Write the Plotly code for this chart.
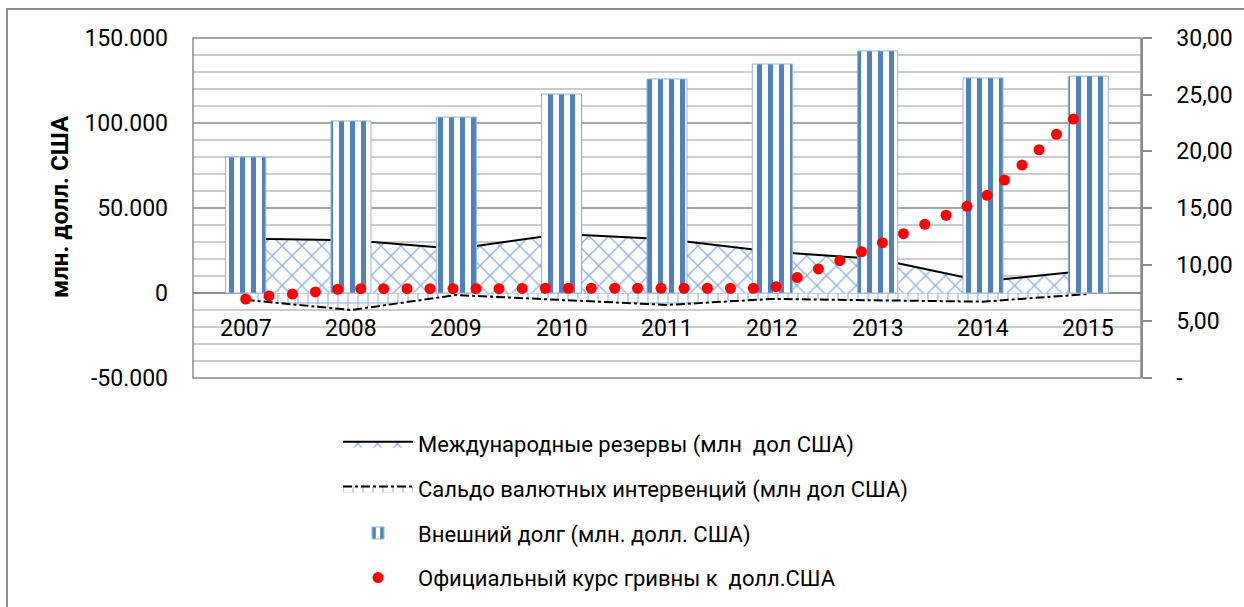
import plotly.graph_objects as go

years = ["2007", "2008", "2009", "2010", "2011", "2012", "2013", "2014", "2015"]
reserves = [32000, 31100, 26000, 34700, 31600, 24200, 20000, 6900, 13200]
saldo = [-4000, -10000, -1200, -4100, -7000, -3500, -4100, -5100, -600]
ext_debt = [80000, 101200, 103500, 117000, 125900, 134700, 142400, 126500, 127600]

# official exchange rate: position along the year axis (0 = 2007) and value
rate_pos = [0.0, 0.221, 0.444, 0.662, 0.874, 1.092, 1.310, 1.532, 1.750, 1.969,
            2.187, 2.405, 2.625, 2.845, 3.063, 3.281, 3.503, 3.721, 3.943, 4.162,
            4.383, 4.602, 4.820, 5.035, 5.236, 5.437, 5.640, 5.846, 6.045, 6.245,
            6.447, 6.649, 6.848, 7.038, 7.203, 7.370, 7.532, 7.697, 7.858]
rate = [6.97, 7.24, 7.41, 7.59, 7.83, 7.88, 7.88, 7.88, 7.88, 7.88,
        7.88, 7.88, 7.90, 7.92, 7.92, 7.92, 7.92, 7.92, 7.92, 7.92,
        7.92, 7.92, 7.92, 8.06, 8.87, 9.62, 10.35, 11.14, 11.94, 12.73,
        13.56, 14.36, 15.15, 16.12, 17.47, 18.79, 20.14, 21.50, 22.85]

left_ticks = [-50000, 0, 50000, 100000, 150000]
left_text = ["-50.000", "0", "50.000", "100.000", "150.000"]
right_ticks = [0, 5, 10, 15, 20, 25, 30]
right_text = ["-", "5,00", "10,00", "15,00", "20,00", "25,00", "30,00"]

names = [
    "Международные резервы (млн\u00a0 дол США)",
    "Сальдо валютных интервенций (млн дол США)",
    "Внешний долг (млн. долл. США)",
    "Официальный курс гривны к\u00a0 долл.США",
]

idx = list(range(len(years)))
FONT = "Roboto"

fig = go.Figure()

fig.add_trace(go.Scatter(
    x=idx, y=reserves, name=names[0], mode="lines", fill="tozeroy",
    line=dict(color="black", width=2),
    fillcolor="white",
    fillpattern=dict(shape="x", fgcolor="#8DB0DC", bgcolor="white", size=14, solidity=0.18,
                     fgopacity=1),
    legendgroup="g1", yaxis="y",
))
fig.add_trace(go.Scatter(
    x=idx, y=saldo, name=names[1], mode="lines", fill="tozeroy",
    line=dict(color="black", width=2, dash="dashdot"),
    fillcolor="white",
    fillpattern=dict(shape="+", fgcolor="#8DB0DC", bgcolor="white", size=10, solidity=0.2,
                     fgopacity=1),
    legendgroup="g2", yaxis="y",
))
fig.add_trace(go.Bar(
    x=idx, y=ext_debt, name=names[2], width=0.38,
    marker=dict(color="white", line=dict(color="#95B3D7", width=1),
                pattern=dict(shape="|", fgcolor="#4F81BD", bgcolor="white", size=11,
                             solidity=0.45, fgopacity=1)),
    legendgroup="g3", yaxis="y2",
))
fig.add_trace(go.Scatter(
    x=rate_pos, y=rate, name=names[3], mode="markers",
    marker=dict(color="#FF0000", size=11),
    legendgroup="g4", yaxis="y3",
))

annotations = []
for i, yr in enumerate(years):
    annotations.append(dict(x=i, y=-21000, xref="x", yref="y", text=yr, showarrow=False,
                            xanchor="center", yanchor="middle", font=dict(size=23, family=FONT)))
annotations.append(dict(x=(60 - 193) / 948, y=(378 - 207) / 340, xref="paper", yref="paper",
                        text="<b>млн. долл. США</b>", textangle=-90, showarrow=False,
                        xanchor="center", yanchor="middle", font=dict(size=24, family=FONT)))

fig.update_layout(
    width=1244, height=607,
    margin=dict(l=193, r=103, t=38, b=229, autoexpand=False),
    paper_bgcolor="white", plot_bgcolor="white",
    font=dict(family=FONT, size=22, color="black"),
    showlegend=True,
    legend=dict(x=(338 - 193) / 948, y=(378 - 423) / 340, xanchor="left", yanchor="top",
                font=dict(size=22, family=FONT), itemwidth=70, tracegroupgap=13,
                bgcolor="rgba(0,0,0,0)"),
    xaxis=dict(range=[-0.5, 8.5], showticklabels=False, showgrid=False, zeroline=False,
               showline=False, ticks=""),
    yaxis=dict(range=[-50000, 150000], tickmode="array", tickvals=left_ticks, ticktext=left_text,
               showgrid=True, gridcolor="#A6A6A6", gridwidth=1.5,
               minor=dict(tickmode="linear", tick0=-50000, dtick=10000, showgrid=True,
                          gridcolor="#CCCCCC", gridwidth=1.5),
               zeroline=True, zerolinecolor="#8C8C8C", zerolinewidth=2,
               ticks="", ticklabelstandoff=24, tickfont=dict(size=23, family=FONT)),
    yaxis2=dict(range=[-50000, 150000], overlaying="y", visible=False),
    yaxis3=dict(range=[0, 30], overlaying="y", side="right", tickmode="array",
                tickvals=right_ticks, ticktext=right_text, ticks="outside", ticklen=9,
                tickcolor="#8C8C8C", tickwidth=1.5, showline=True, linecolor="#8C8C8C",
                linewidth=1.5, showgrid=False, zeroline=False, ticklabelstandoff=20,
                tickfont=dict(size=23, family=FONT)),
    annotations=annotations,
    shapes=[
        dict(type="rect", xref="paper", yref="paper", x0=0, x1=1, y0=0, y1=1,
             line=dict(color="#8C8C8C", width=1.5), layer="above"),
        dict(type="rect", xref="paper", yref="paper",
             x0=(7 - 193) / 948, x1=(1260 - 193) / 948,
             y0=(378 - 620) / 340, y1=(378 - 9) / 340,
             line=dict(color="#8C8C8C", width=2), layer="below"),
    ],
)

fig.write_html("out.html", config={"displayModeBar": False},
               post_script="document.body.style.margin='0';")
